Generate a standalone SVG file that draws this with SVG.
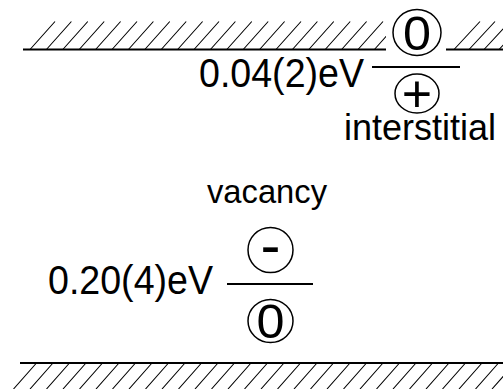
<svg xmlns="http://www.w3.org/2000/svg" width="503" height="389" viewBox="0 0 503 389">
  <style>
    .txt { font-family: "Liberation Sans", Arial, Helvetica, sans-serif; fill: #000; }
    .sym { font-family: "Liberation Sans", Arial, Helvetica, sans-serif; fill: #000; text-anchor: middle; }
    .edge { stroke: #000; stroke-width: 2; fill: none; }
    .hatch { stroke: #000; stroke-width: 1.1; fill: none; }
    .level { stroke: #000; stroke-width: 2; fill: none; }
    .ring { stroke: #000; stroke-width: 1.5; fill: #fff; }
  </style>
  <defs>
    <clipPath id="clipTopLeft"><rect x="0" y="0" width="386" height="60"/></clipPath>
    <clipPath id="clipTopRight"><rect x="446" y="0" width="57" height="60"/></clipPath>
    <clipPath id="clipBottom"><rect x="0" y="362" width="503" height="27"/></clipPath>
  </defs>

  <!-- conduction band edge with hatching -->
  <g id="conduction-band">
    <line class="edge" x1="23" y1="49.5" x2="386" y2="49.5"/>
    <line class="edge" x1="446" y1="49.5" x2="503" y2="49.5"/>
    <g clip-path="url(#clipTopLeft)">
      <path class="hatch" d="M30 49.5 l25 -28 M46.4 49.5 l25 -28 M62.8 49.5 l25 -28 M79.2 49.5 l25 -28 M95.6 49.5 l25 -28 M112 49.5 l25 -28 M128.4 49.5 l25 -28 M144.8 49.5 l25 -28 M161.2 49.5 l25 -28 M177.6 49.5 l25 -28 M194 49.5 l25 -28 M210.4 49.5 l25 -28 M226.8 49.5 l25 -28 M243.2 49.5 l25 -28 M259.6 49.5 l25 -28 M276 49.5 l25 -28 M292.4 49.5 l25 -28 M308.8 49.5 l25 -28 M325.2 49.5 l25 -28 M341.6 49.5 l25 -28 M358 49.5 l25 -28 M374.4 49.5 l25 -28"/>
    </g>
    <g clip-path="url(#clipTopRight)">
      <path class="hatch" d="M454 49.5 l26 -28 M469 49.5 l26 -28 M484 49.5 l26 -28 M499 49.5 l26 -28"/>
    </g>
  </g>

  <!-- valence band edge with hatching -->
  <g id="valence-band">
    <line class="edge" x1="20" y1="363" x2="503" y2="363"/>
    <g clip-path="url(#clipBottom)">
      <path class="hatch" d="M36.5 363 l-23 26 M53 363 l-23 26 M69.5 363 l-23 26 M86 363 l-23 26 M102.5 363 l-23 26 M119 363 l-23 26 M135.5 363 l-23 26 M152 363 l-23 26 M168.5 363 l-23 26 M185 363 l-23 26 M201.5 363 l-23 26 M218 363 l-23 26 M234.5 363 l-23 26 M251 363 l-23 26 M267.5 363 l-23 26 M284 363 l-23 26 M300.5 363 l-23 26 M317 363 l-23 26 M333.5 363 l-23 26 M350 363 l-23 26 M366.5 363 l-23 26 M383 363 l-23 26 M399.5 363 l-23 26 M416 363 l-23 26 M432.5 363 l-23 26 M449 363 l-23 26 M465.5 363 l-23 26 M482 363 l-23 26 M498.5 363 l-23 26 M515 363 l-23 26"/>
    </g>
  </g>

  <!-- interstitial (0/+) level -->
  <g id="interstitial-level">
    <line class="level" x1="372" y1="67" x2="460" y2="67"/>
    <text class="txt" x="199" y="87" font-size="40" textLength="165" lengthAdjust="spacingAndGlyphs">0.04(2)eV</text>
    <text class="txt" x="344" y="139.5" font-size="36">interstitial</text>
  </g>
  <g id="interstitial-neutral">
    <ellipse class="ring" cx="417" cy="32.5" rx="24" ry="23"/>
    <text class="sym" x="417" y="50" font-size="48" textLength="28" lengthAdjust="spacingAndGlyphs">0</text>
  </g>
  <g id="interstitial-plus">
    <ellipse class="ring" cx="417" cy="93.5" rx="22" ry="19.5"/>
    <text class="sym" x="417" y="111.5" font-size="52">+</text>
  </g>

  <!-- vacancy (-/0) level -->
  <g id="vacancy-level">
    <line class="level" x1="227" y1="284" x2="313" y2="284"/>
    <text class="txt" x="207" y="203" font-size="33" textLength="120" lengthAdjust="spacingAndGlyphs">vacancy</text>
    <text class="txt" x="48" y="294" font-size="40" textLength="165" lengthAdjust="spacingAndGlyphs">0.20(4)eV</text>
  </g>
  <g id="vacancy-minus">
    <ellipse class="ring" cx="270.5" cy="250" rx="22.5" ry="22.5"/>
    <text class="sym" x="270.5" y="265" font-size="60">-</text>
  </g>
  <g id="vacancy-neutral">
    <ellipse class="ring" cx="270.5" cy="321" rx="22.5" ry="21.5"/>
    <text class="sym" x="270.5" y="338" font-size="48" textLength="28" lengthAdjust="spacingAndGlyphs">0</text>
  </g>
</svg>
